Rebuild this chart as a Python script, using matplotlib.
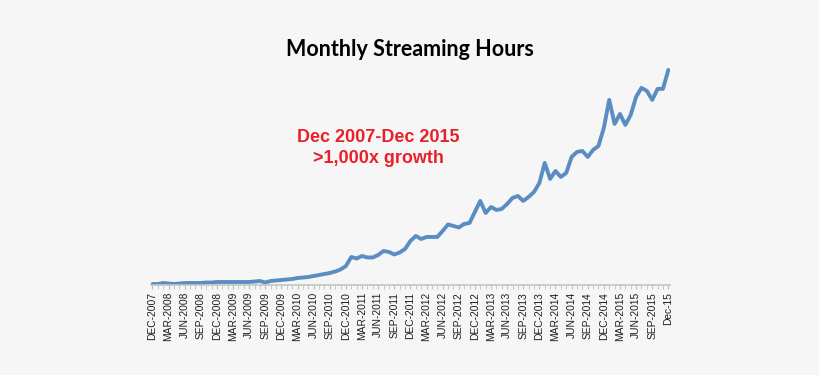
import numpy as np
import pandas as pd
import matplotlib
matplotlib.use("Agg")
import matplotlib.pyplot as plt

# -------------------------------
# Data (relative monthly streaming hours, Dec 2007 - Dec 2015)
# -------------------------------
months = pd.date_range("2007-12-01", "2015-12-01", freq="MS")

hours = [
    1, 1, 2, 1.5, 1, 1.5, 2, 2, 2, 2, 2.5, 2.5,          # Dec07 - Nov08
    3, 3, 3, 3, 3, 3, 3, 3.5, 4, 2.5, 4, 4.5,            # Dec08 - Nov09
    5, 5.5, 6, 7, 7.5, 8, 9, 10, 11, 12, 13.5, 15.5,     # Dec09 - Nov10
    19, 28, 26.5, 29, 27.5, 27.5, 30, 34, 33, 30.5, 32.5, 36,  # Dec10 - Nov11
    44, 49, 46, 48, 48, 48, 54, 60.5, 59, 57.5, 61, 62,  # Dec11 - Nov12
    73, 84, 72, 78, 75, 76, 81, 87, 89, 84, 88, 93,      # Dec12 - Nov13
    102, 122, 106, 114, 108, 112, 128, 133, 134, 128, 135, 139,  # Dec13 - Nov14
    157, 185, 161, 171, 160, 170, 188, 197, 194, 185, 196, 196,  # Dec14 - Nov15
    215,                                                 # Dec15
]

df = pd.DataFrame({"Month": months, "Hours": hours})

# tick labels every quarter, last one short form
tick_idx = list(range(0, len(months), 3))
tick_labels = [m.strftime("%b-%Y").upper() for m in months[tick_idx]]
tick_labels[-1] = "Dec-15"

# --------------------------------
# Plot
# --------------------------------
bg = "#f6f6f6"
fig = plt.figure(figsize=(8.2, 3.75), dpi=100, facecolor=bg)
ax = fig.add_axes([0.184, 0.24, 0.633, 0.587], facecolor=bg)

x = np.arange(len(df))
ax.plot(x, df["Hours"], color="#5b8dc3", linewidth=2.8,
        solid_joinstyle="round", solid_capstyle="round")

ax.set_xlim(-0.3, len(df) - 0.7)
ax.set_ylim(0, 220)

for side in ["top", "right", "left"]:
    ax.spines[side].set_visible(False)
ax.spines["bottom"].set_color("#c4c4c4")
ax.spines["bottom"].set_linewidth(1.2)

ax.set_yticks([])
ax.set_xticks(tick_idx)
ax.set_xticklabels(tick_labels, rotation=90, fontsize=7.4,
                   family="Liberation Sans", color="#1e1e1e")
ax.set_xticks(x, minor=True)
ax.tick_params(axis="x", which="both", length=3, color="#bdbdbd", pad=2)

fig.text(0.5, 0.868, "Monthly Streaming Hours", ha="center", va="center",
         fontsize=15.5, fontweight="bold", family="Lato", color="black")

fig.text(0.461, 0.605, "Dec 2007-Dec 2015\n>1,000x growth", ha="center",
         va="center", fontsize=13, fontweight="bold", family="Liberation Sans",
         color="#e8202a", linespacing=1.25)

plt.savefig("out.png", dpi=100, facecolor=bg)
